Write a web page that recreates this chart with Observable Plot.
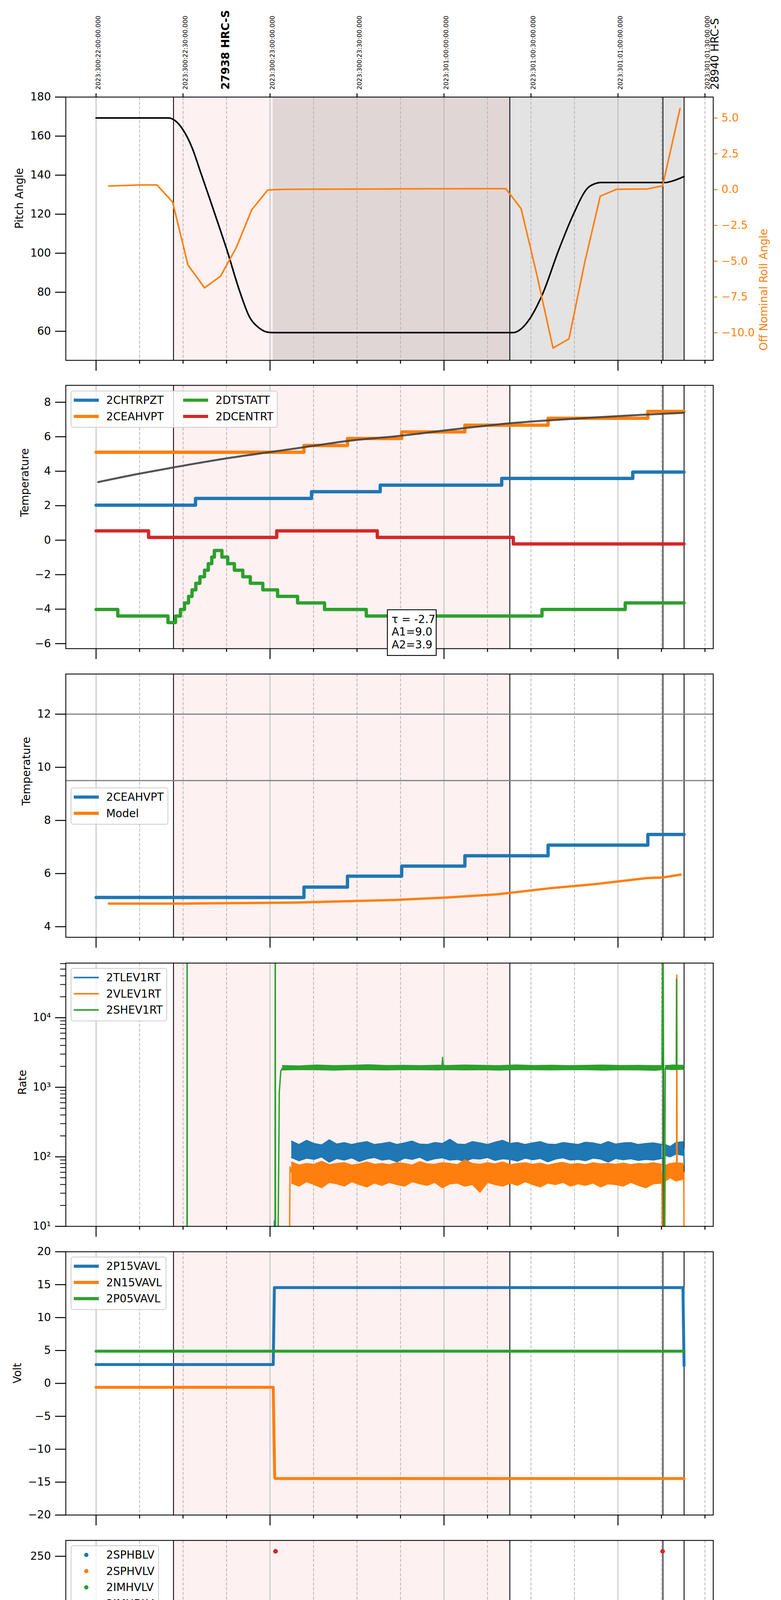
<!DOCTYPE html>
<html><head><meta charset="utf-8">
<script src="https://cdn.jsdelivr.net/npm/d3@7"></script>
<script src="https://cdn.jsdelivr.net/npm/@observablehq/plot@0.6"></script>
<style>
body{margin:0;background:#fff;}
#root{position:relative;width:2000px;height:6200px;font-family:"DejaVu Sans";}
#root svg{position:absolute;left:0;overflow:visible;}
</style></head><body><div id="root"></div>
<script>
// ---------- time axis: minutes after 18:00 local (2023-10-27, DOY 300) ----------
const hourTicks = [0, 60, 120, 180];
const hourLabels = ["18h", "19h", "20h", "21h"];
const quarterTicks = [15, 30, 45, 75, 90, 105, 135, 150, 165, 195, 210];
const quarterLabels = ["15", "30", "45", "15", "30", "45", "15", "30", "45", "15", "30"];
const halfHourTicks = [0, 30, 60, 90, 120, 150, 180, 210];
const topLabels = ["2023:300:22:00:00.000", "2023:300:22:30:00.000", "2023:300:23:00:00.000", "2023:300:23:30:00.000",
  "2023:301:00:00:00.000", "2023:301:00:30:00.000", "2023:301:01:00:00.000", "2023:301:01:30:00.000"];
const obsidT = [43.2, 212.0];
const obsidLabels = ["27938 HRC-S", "28940 HRC-S"];
const eventTimes = [26.7, 142.7, 195.5, 202.8];
const pinkSpan = [26.7, 142.7];
const graySpan = [61.0, 202.8];
const xDomain = [-10.44, 212.86];

// ---------- panel 1: pitch / roll ----------
const pitchT = [0, 25.0, 27.0, 30.0, 33.1, 36.1, 38.9, 42.0, 45.1, 49.4, 52.8, 56.3, 59.7, 62.0, 143.9, 146.4, 149.0, 154.2, 159.3, 164.5, 169.6, 172.0, 173.9, 196.3, 198.8, 202.8];
const pitchV = [169.3, 169.3, 168.2, 163.2, 154.1, 141.3, 129.2, 115.6, 101.8, 81.1, 67.7, 61.6, 59.4, 59.3, 59.3, 61.0, 65.2, 79.8, 100.6, 119.5, 133.5, 135.6, 136.2, 136.2, 137.0, 139.3];
const rollT = [4.4, 15.0, 21.0, 26.4, 31.7, 37.4, 42.9, 48.4, 53.7, 59.2, 64.8, 100, 141.3, 146.6, 152.1, 157.6, 163.1, 168.6, 173.9, 179.6, 190.2, 195.4, 201.4];
const rollV = [0.25, 0.33, 0.33, -0.87, -5.27, -6.86, -6.06, -4.03, -1.40, -0.03, 0.02, 0.05, 0.07, -1.33, -6.02, -11.07, -10.43, -5.02, -0.45, 0.03, 0.05, 0.27, 5.67];
const pitchTicks = [60, 80, 100, 120, 140, 160, 180];
const rollTicks = [-10, -7.5, -5, -2.5, 0, 2.5, 5];

// ---------- panel 2: temperatures ----------
const chtrT = [0, 34.3, 74.3, 98.0, 139.9, 185.1, 202.8];
const chtrV = [2.03, 2.42, 2.81, 3.19, 3.58, 3.95, 3.95];
const ceahT = [0, 71.7, 86.7, 105.4, 127.2, 155.9, 190.3, 202.8];
const ceahV = [5.10, 5.49, 5.90, 6.28, 6.67, 7.07, 7.47, 7.47];
const dtstT = [0, 7.5, 24.8, 27.4, 29.1, 30.5, 31.9, 33.1, 34.4, 35.8, 37.4, 38.7, 39.9, 40.8, 43.4, 45.4, 47.7, 50.6, 53.2, 57.5, 62.6, 69.5, 78.8, 93.2, 153.8, 182.5, 202.8];
const dtstV = [-4.02, -4.40, -4.78, -4.40, -4.02, -3.64, -3.26, -2.88, -2.50, -2.12, -1.74, -1.36, -0.98, -0.60, -0.98, -1.36, -1.74, -2.12, -2.50, -2.88, -3.26, -3.64, -4.02, -4.40, -4.02, -3.64, -3.64];
const dcenT = [0, 18.1, 62.3, 97.0, 143.9, 202.8];
const dcenV = [0.54, 0.16, 0.54, 0.16, -0.22, -0.22];
const fitT = [0.7, 15.0, 26.7, 45.1, 60.0, 71.7, 86.6, 105.3, 127.0, 142.8, 158.0, 173.0, 188.0, 202.8];
const fitV = [3.37, 3.86, 4.22, 4.75, 5.11, 5.39, 5.75, 6.06, 6.50, 6.78, 6.97, 7.13, 7.27, 7.39];
const fitText = ["τ = -2.7", "A1=9.0", "A2=3.9"];
const p2Legend = ["2CHTRPZT", "2CEAHVPT", "2DTSTATT", "2DCENTRT"];

// ---------- panel 3: 2CEAHVPT vs model ----------
const modelT = [4.4, 30, 52.6, 69.6, 86.9, 104.1, 121.3, 138.6, 155.9, 172.9, 190.1, 195.4, 201.6];
const modelV = [4.87, 4.87, 4.89, 4.91, 4.96, 5.01, 5.10, 5.22, 5.44, 5.61, 5.83, 5.85, 5.96];
const limitLines = [12, 9.5];
const p3Legend = ["2CEAHVPT", "Model"];

// ---------- panel 4: rates (noise envelopes) ----------
const bandT = [67.4, 70, 72.6, 75.2, 77.8, 80.4, 83, 85.6, 88.2, 90.8, 93.4, 96, 98.6, 101.2, 103.8, 106.4, 109, 111.6, 114.2, 116.8, 119.4, 122, 124.6, 127.2, 129.8, 132.4, 135, 137.6, 140.2, 142.8, 145.4, 148, 150.6, 153.2, 155.8, 158.4, 161, 163.6, 166.2, 168.8, 171.4, 174, 176.6, 179.2, 181.8, 184.4, 187, 189.6, 192.2, 195.2];
const tlevHi = [168, 150, 172, 155, 148, 175, 152, 160, 150, 158, 165, 150, 155, 162, 150, 158, 168, 152, 150, 160, 155, 178, 152, 150, 165, 158, 150, 162, 172, 155, 160, 150, 158, 165, 152, 150, 160, 155, 150, 162, 158, 150, 165, 152, 158, 160, 150, 155, 158, 150];
const tlevLo = [98, 88, 96, 92, 100, 84, 95, 90, 97, 86, 94, 98, 90, 93, 85, 96, 92, 99, 88, 94, 97, 90, 92, 86, 95, 93, 98, 89, 94, 92, 87, 96, 91, 95, 85, 93, 97, 90, 92, 88, 96, 93, 84, 95, 91, 94, 89, 92, 90, 95];
const vlevHi = [84, 76, 80, 78, 86, 77, 80, 82, 76, 79, 84, 78, 80, 77, 82, 80, 76, 85, 79, 78, 82, 80, 77, 90, 80, 78, 82, 79, 84, 77, 80, 82, 78, 81, 76, 80, 83, 78, 80, 77, 82, 79, 80, 78, 81, 77, 80, 79, 82, 78];
const vlevLo = [42, 38, 44, 40, 36, 43, 41, 38, 44, 40, 37, 42, 39, 43, 40, 38, 44, 41, 39, 43, 36, 41, 42, 38, 40, 31, 43, 40, 38, 42, 39, 44, 40, 37, 42, 40, 43, 38, 41, 39, 42, 37, 41, 40, 38, 43, 39, 36, 41, 42];
const band2T = [196.3, 198, 200, 202.7];
const tlevHi2 = [150, 140, 160, 165];
const tlevLo2 = [105, 100, 110, 105];
const vlevHi2 = [75, 80, 82, 80];
const vlevLo2 = [45, 50, 45, 48];
const shevT = [64.3, 70, 76, 82, 88, 94, 100, 106, 112, 118, 119.3, 119.5, 119.7, 121, 127, 133, 139, 145, 151, 157, 163, 169, 175, 181, 187, 193, 195.2];
const shevHi = [2050, 2020, 2080, 2040, 2060, 2100, 2050, 2060, 2040, 2070, 2060, 2700, 2060, 2050, 2080, 2060, 2040, 2090, 2050, 2070, 2040, 2060, 2080, 2050, 2060, 2040, 2050];
const shevLo = [1780, 1800, 1790, 1770, 1800, 1790, 1780, 1800, 1790, 1780, 1790, 1790, 1790, 1800, 1780, 1790, 1770, 1800, 1790, 1780, 1800, 1790, 1770, 1790, 1780, 1760, 1800];
const shev2T = [196.3, 199, 202.8];
const shevHi2 = [2050, 2080, 2060];
const shevLo2 = [1820, 1800, 1820];
// spikes / transitions (single samples)
const shevSpikes = [
  {t: [31.35, 31.4, 31.45], v: [1, 1e6, 1]},
  {t: [61.7, 61.8, 61.9, 62.6, 63.2, 63.7, 64.3], v: [1, 1e6, 1, 1, 850, 1700, 1900]},
  {t: [195.2, 195.5, 196.0, 196.3], v: [1900, 1e6, 1, 1900]},
  {t: [200.1, 200.2, 200.3], v: [1950, 36000, 1950]}
];
const tlevSpikes = [
  {t: [61.4, 61.5, 61.6], v: [1, 12, 1]},
  {t: [202.7, 202.85], v: [130, 76]}
];
const vlevSpikes = [
  {t: [66.6, 66.9, 67.4], v: [1, 72, 60]},
  {t: [195.2, 195.4, 196.0, 196.3], v: [60, 1, 1, 60]},
  {t: [200.2, 200.3, 200.4], v: [60, 41000, 60]},
  {t: [202.7, 202.85], v: [60, 1]}
];
const rateTicks = [10, 100, 1000, 10000];
const rateLabels = ["10¹", "10²", "10³", "10⁴"];
const p4Legend = ["2TLEV1RT", "2VLEV1RT", "2SHEV1RT"];

// ---------- panel 5: voltages ----------
const p15T = [0, 61.1, 61.5, 202.4, 202.8];
const p15V = [2.86, 2.86, 14.55, 14.55, 2.7];
const n15T = [0, 61.1, 61.6, 61.8, 202.8];
const n15V = [-0.6, -0.6, -14.3, -14.45, -14.45];
const p05T = [0, 202.8];
const p05V = [4.9, 4.9];
const p5Legend = ["2P15VAVL", "2N15VAVL", "2P05VAVL"];

// ---------- panel 6: HV monitors (scatter) ----------
const hvBlueT = [64.3, 64.7, 65.4, 66.1, 66.6, 67.4, 195.9];
const hvBlueV = [117.6, 102, 97.3, 92, 87, 82, 51.7];
const hvOrangeT = [64.2, 64.7, 65.2, 66.1, 66.8, 67.3, 195.9];
const hvOrangeV = [126.6, 96.3, 90.7, 85.4, 80, 75, 5];
const hvRedT = [61.9, 195.4];
const hvRedV = [255, 255];
const hvPlateauT = [67.9, 202.8];      // dense steady samples
const hvBlueLevels = [77, 78];
const hvOrangeLevels = [71];
const p6Legend = ["2SPHBLV", "2SPHVLV", "2IMHVLV", "2IMHBLV"];

// ---------- panel 7: detector temps ----------
const spinT = [61.9, 70.2, 81.0, 103.0, 202.8];
const spinV = [4.16, 3.71, 3.26, 2.82, 2.82];
const sphvT = [61.1, 61.5, 70.5, 75.5, 79.8, 84.6, 88.9, 94.1, 99.6, 105.7, 113.0, 120.7, 130.1, 133.5, 133.7, 141.0, 153.8, 171.0, 193.8, 194.9, 195.1, 202.8];
const sphvV = [13.97, 14.41, 14.70, 15.00, 15.25, 15.53, 15.80, 16.08, 16.36, 16.64, 16.93, 17.20, 17.50, 17.20, 17.50, 17.80, 18.08, 18.37, 18.50, 15.40, 18.66, 18.66];
const iminT = [62.2, 196.3, 196.7, 202.8];
const iminV = [0.67, 15.2, 0.67, 0.67];
const imhvT = [61.5, 61.6, 89.4, 110.9, 131.3, 154.7, 183.4, 194.9, 195.4, 196.8, 202.8];
const imhvV = [-30, 13.86, 14.13, 14.41, 14.69, 14.96, 15.25, -40, 60, 15.25, 15.25];
const p7Legend = ["2SPINATM", "2SPHVATM", "2IMINATM", "2IMHVATM"];

// ---------- panel 8: FEA temps ----------
const fhtrT = [0, 31.0, 73.4, 83.7, 93.5, 103.0, 112.6, 122.6, 133.0, 143.4, 154.4, 163.0, 170.8, 179.6, 188.5, 198.0, 202.8];
const fhtrV = [-9.21, -8.80, -8.38, -7.97, -7.57, -7.17, -6.77, -6.38, -5.98, -5.58, -5.19, -4.80, -4.40, -4.03, -3.65, -3.27, -3.27];
const fradT = [0, 30.2, 41.1, 53.2, 61.1, 76.2, 90.1, 102.3, 114.3, 126.4, 138.4, 150.4, 155.7, 158.7, 161.6, 165.9, 176.3, 186.7, 195.9, 202.8];
const fradV = [-10.89, -10.46, -10.04, -10.46, -10.89, -10.46, -10.04, -9.62, -9.21, -8.80, -8.38, -7.97, -7.57, -7.17, -6.77, -6.38, -5.98, -5.58, -5.19, -5.19];
const feprT = [62.4, 64.8, 67.4, 70.0, 73.8, 78.3, 83.4, 90.3, 97.5, 105.7, 114.7, 124.6, 134.8, 146.3, 158.0, 168.3, 177.7, 188.0, 198.0, 202.8];
const feprV = [-7.42, -7.00, -6.60, -6.20, -5.77, -5.40, -5.00, -4.60, -4.20, -3.82, -3.43, -3.02, -2.62, -2.22, -1.82, -1.43, -1.03, -0.60, -0.25, -0.25];
const fe00T = [61.5, 61.6, 69.7, 73.7, 73.9, 76.5, 80.2, 80.4, 81.6, 81.8, 83.4, 88.5, 88.7, 89.4, 96.1, 97.4, 97.6, 103.2, 110.4, 117.6, 125.3, 133.6, 142.5, 151.3, 157.2, 157.4, 158.1, 164.5, 166.6, 166.8, 170.8, 178.2, 185.6, 191.0, 191.2, 193.3, 195.0, 195.4, 195.9, 201.4];
const fe00V = [-20, -6.72, -6.36, -5.96, -6.36, -5.97, -5.2, -5.97, -4.9, -5.97, -5.60, -6.03, -5.60, -5.24, -4.87, -5.31, -4.87, -4.50, -4.14, -3.78, -3.44, -3.08, -2.74, -2.41, -2.85, -2.41, -2.06, -1.73, -1.40, -1.73, -1.38, -1.05, -0.70, -1.19, -0.70, -0.39, -20, 10, -0.39, -0.39];
const p8Legend = ["2FHTRMZT", "2FRADPYT", "2FEPRATM", "2FE00ATM"];
const xTitle = "2023-10-27 (300)";

// ================= drawing =================
const W = 2000, FL = 168, FR = 174, PH = 674;
const panelTops = [248, 986, 1725, 2465, 3204, 3943, 4682, 5421];
const FONT = "DejaVu Sans";
const C = {blue: "#1f77b4", orange: "#ff7f0e", green: "#2ca02c", red: "#d62728"};
const FS = 27.8;
const root = document.getElementById("root");
const zip = (t, v) => t.map((x, i) => ({t: x, v: v[i]}));
const style = {fontFamily: FONT, fontSize: FS + "px", color: "black", background: "transparent", overflow: "visible"};

function bg(gray) {
  return [
    Plot.rect([pinkSpan], {x1: d => d[0], x2: d => d[1], fill: "#fdf1f1"}),
    gray ? Plot.rect([graySpan], {x1: d => d[0], x2: d => d[1], fill: "black", fillOpacity: 0.11}) : null,
    Plot.ruleX(hourTicks, {stroke: "#b0b0b0", strokeWidth: 1.8}),
    Plot.ruleX(quarterTicks, {stroke: "#b0b0b0", strokeWidth: 1.8, strokeDasharray: "8,4"}),
    Plot.ruleX(eventTimes, {stroke: "black", strokeWidth: 2.2})
  ];
}
function xAxes(showLabels) {
  return [
    Plot.axisX({ticks: hourTicks, tickSize: 27, tickPadding: 12, strokeWidth: 2.5, fontSize: FS, label: null,
      tickFormat: d => showLabels ? hourLabels[hourTicks.indexOf(d)] : ""}),
    Plot.axisX({ticks: quarterTicks, tickSize: 9, tickPadding: 2, strokeWidth: 2.5, fontSize: 20, label: null,
      tickFormat: d => showLabels ? quarterLabels[quarterTicks.indexOf(d)] : ""})
  ];
}
function makePanel({idx, y, marks, mt = 30, mb = 34, ylabel, ylabelX, yticks, yfmt, extra = [], xLabels = false, gray = false}) {
  const all = [
    ...bg(gray),
    ...marks,
    Plot.axisY({ticks: yticks, tickFormat: yfmt, tickSize: 27, tickPadding: 11, strokeWidth: 2.5, fontSize: FS, label: null}),
    ...extra,
    ...xAxes(xLabels),
    Plot.text([ylabel], {text: d => d, frameAnchor: "left", dx: ylabelX - FL, rotate: -90, fontSize: FS}),
    Plot.frame({stroke: "black", strokeWidth: 2.2})
  ];
  const svg = Plot.plot({width: W, height: mt + PH + mb, marginLeft: FL, marginRight: FR, marginTop: mt, marginBottom: mb,
    style, x: {domain: xDomain}, y, marks: all});
  svg.style.top = (panelTops[idx] - mt) + "px";
  root.appendChild(svg);
  return {svg, mt};
}
function legend(p, {y, w, labels, colors, kind = "line", sw = 8, cols = 1, colW = 280}) {
  const rows = Math.ceil(labels.length / cols);
  const h = rows * 41.5 + 10;
  const g = d3.select(p.svg).append("g").attr("transform", `translate(${FL + 14},${p.mt + y})`)
    .attr("font-family", FONT).attr("font-size", FS).attr("text-anchor", "start");
  g.append("rect").attr("width", w).attr("height", h).attr("rx", 5).attr("fill", "white").attr("fill-opacity", 0.8)
    .attr("stroke", "#cccccc").attr("stroke-width", 2);
  labels.forEach((label, k) => {
    const c = Math.floor(k / rows), r = k % rows, cy = 23.5 + r * 41.5, ox = c * colW;
    if (kind === "line") g.append("line").attr("x1", ox + 7).attr("x2", ox + 71).attr("y1", cy).attr("y2", cy)
      .attr("stroke", colors[k]).attr("stroke-width", sw);
    else g.append("circle").attr("cx", ox + 39).attr("cy", cy).attr("r", 5.5).attr("fill", colors[k]);
    g.append("text").attr("x", ox + 90).attr("y", cy).attr("dy", "0.35em").attr("text-anchor", "start").attr("fill", "black").text(label);
  });
}
const stepLine = (t, v, color, sw) => Plot.line(zip(t, v), {x: "t", y: "v", stroke: color, strokeWidth: sw, curve: "step-after", clip: true, strokeLinejoin: "round"});
const linLine = (t, v, color, sw, extra = {}) => Plot.line(zip(t, v), {x: "t", y: "v", stroke: color, strokeWidth: sw, clip: true, strokeLinejoin: "round", ...extra});

// ---- Panel 1 ----
const p1 = makePanel({idx: 0, mt: 248, y: {domain: [45.1, 180]}, yticks: pitchTicks, yfmt: d3.format("d"),
  ylabel: "Pitch Angle", ylabelX: 50, gray: true,
  marks: [linLine(pitchT, pitchV, "black", 4, {curve: "monotone-x"})],
  extra: [
    Plot.axisX({anchor: "top", ticks: halfHourTicks, tickSize: 10, strokeWidth: 2.5, label: null, tickFormat: () => ""}),
    Plot.text(halfHourTicks, {x: d => d, text: (d, i) => topLabels[i], frameAnchor: "top", dy: -19, rotate: -90, textAnchor: "start", fontSize: 16}),
    Plot.text([0], {x: () => obsidT[0], text: () => obsidLabels[0], frameAnchor: "top", dy: -19, rotate: -90, textAnchor: "start", fontSize: FS, fontWeight: "bold"}),
    Plot.text([1], {x: () => obsidT[1], text: () => obsidLabels[1], frameAnchor: "top", dy: -19, rotate: -90, textAnchor: "start", fontSize: FS})
  ]});
const p1r = Plot.plot({width: W, height: 248 + PH + 34, marginLeft: FL, marginRight: FR, marginTop: 248, marginBottom: 34,
  style, x: {domain: xDomain, axis: null}, y: {domain: [-11.93, 6.47]},
  marks: [
    linLine(rollT, rollV, C.orange, 4),
    Plot.axisY({anchor: "right", ticks: rollTicks, tickFormat: d3.format(".1f"), tickSize: 10, tickPadding: 11, strokeWidth: 2.5,
      stroke: C.orange, fill: C.orange, color: C.orange, fontSize: FS, label: null}),
    Plot.text(["Off Nominal Roll Angle"], {text: d => d, frameAnchor: "right", dx: 130, rotate: -90, fill: C.orange, fontSize: FS})
  ]});
p1r.style.top = "0px";
root.appendChild(p1r);

// ---- Panel 2 ----
const p2 = makePanel({idx: 1, y: {domain: [-6.29, 8.98]}, yticks: [-6, -4, -2, 0, 2, 4, 6, 8], yfmt: d3.format("d"),
  ylabel: "Temperature", ylabelX: 64,
  marks: [
    stepLine(chtrT, chtrV, C.blue, 8.5),
    stepLine(ceahT, ceahV, C.orange, 8.5),
    stepLine(dtstT, dtstV, C.green, 8.5),
    stepLine(dcenT, dcenV, C.red, 8.5),
    linLine(fitT, fitV, "#404040", 5, {curve: "monotone-x", strokeOpacity: 0.9})
  ]});
legend(p2, {y: 15, w: 528, labels: p2Legend, colors: [C.blue, C.orange, C.green, C.red], sw: 8, cols: 2, colW: 280});
{
  const g = d3.select(p2.svg).append("g").attr("font-family", FONT).attr("font-size", FS).attr("text-anchor", "start");
  g.append("rect").attr("x", FL + 824).attr("y", p2.mt + 575).attr("width", 125).attr("height", 117)
    .attr("fill", "white").attr("stroke", "black").attr("stroke-width", 2.2);
  fitText.forEach((s, i) => g.append("text").attr("x", FL + 835).attr("y", p2.mt + 599 + i * 32.5).attr("dy", "0.35em")
    .attr("text-anchor", "start").text(s));
}

// ---- Panel 3 ----
const p3 = makePanel({idx: 2, y: {domain: [3.60, 13.51]}, yticks: [4, 6, 8, 10, 12], yfmt: d3.format("d"),
  ylabel: "Temperature", ylabelX: 68,
  marks: [
    Plot.ruleY(limitLines, {stroke: "#808080", strokeWidth: 3}),
    stepLine(ceahT, ceahV, C.blue, 8.5),
    linLine(modelT, modelV, C.orange, 6)
  ]});
legend(p3, {y: 292, w: 248, labels: p3Legend, colors: [C.blue, C.orange], sw: 8});

// ---- Panel 4 ----
const band = (t, lo, hi, color) => [
  Plot.areaY(t.map((x, i) => ({t: x, lo: lo[i], hi: hi[i]})), {x: "t", y1: "lo", y2: "hi", fill: color, clip: true}),
  Plot.line(zip(t, hi), {x: "t", y: "v", stroke: color, strokeWidth: 3, clip: true}),
  Plot.line(zip(t, lo), {x: "t", y: "v", stroke: color, strokeWidth: 3, clip: true})
];
const spikes = (arr, color) => arr.map(s => linLine(s.t, s.v, color, 3.5));
const minorRate = [1, 10, 100, 1000].flatMap(p => [2, 3, 4, 5, 6, 7, 8, 9].map(k => k * p * 10)).filter(v => v < 61000);
const p4 = makePanel({idx: 3, y: {type: "log", domain: [10, 61000]}, yticks: rateTicks, yfmt: d => rateLabels[rateTicks.indexOf(d)],
  ylabel: "Rate", ylabelX: 58,
  marks: [
    ...band(bandT, tlevLo, tlevHi, C.blue), ...band(band2T, tlevLo2, tlevHi2, C.blue), ...spikes(tlevSpikes, C.blue),
    ...band(bandT, vlevLo, vlevHi, C.orange), ...band(band2T, vlevLo2, vlevHi2, C.orange), ...spikes(vlevSpikes, C.orange),
    ...band(shevT, shevLo, shevHi, C.green), ...band(shev2T, shevLo2, shevHi2, C.green), ...spikes(shevSpikes, C.green)
  ],
  extra: [Plot.axisY({ticks: minorRate, tickSize: 14, strokeWidth: 2, tickFormat: () => "", label: null})]});
legend(p4, {y: 14, w: 245, labels: p4Legend, colors: [C.blue, C.orange, C.green], sw: 4});

// ---- Panel 5 ----
const p5 = makePanel({idx: 4, y: {domain: [-20, 20]}, yticks: [-20, -15, -10, -5, 0, 5, 10, 15, 20], yfmt: d3.format("d"),
  ylabel: "Volt", ylabelX: 45,
  marks: [linLine(p15T, p15V, C.blue, 7.5), linLine(n15T, n15V, C.orange, 7.5), linLine(p05T, p05V, C.green, 7.5)]});
legend(p5, {y: 14, w: 243, labels: p5Legend, colors: [C.blue, C.orange, C.green], sw: 8});

// ---- Panel 6 ----
const plateau = (levels, color, sw) => levels.map(lv => Plot.line(hvPlateauT.map(t => ({t, v: lv})),
  {x: "t", y: "v", stroke: color, strokeWidth: sw, strokeLinecap: "round", clip: true}));
const p6 = makePanel({idx: 5, y: {domain: [0, 266]}, yticks: [0, 50, 100, 150, 200, 250], yfmt: d3.format("d"),
  ylabel: "HV Monitor", ylabelX: 50,
  marks: [
    ...plateau(hvBlueLevels, C.blue, 11),
    Plot.dot(zip(hvBlueT, hvBlueV), {x: "t", y: "v", r: 6, fill: C.blue}),
    ...plateau(hvOrangeLevels, C.orange, 11),
    Plot.dot(zip(hvOrangeT, hvOrangeV), {x: "t", y: "v", r: 6, fill: C.orange}),
    Plot.dot(zip(hvRedT, hvRedV), {x: "t", y: "v", r: 6, fill: C.red})
  ]});
legend(p6, {y: 14, w: 224, labels: p6Legend, colors: [C.blue, C.orange, C.green, C.red], kind: "dot"});

// ---- Panel 7 ----
const p7 = makePanel({idx: 6, y: {domain: [-0.85, 19.58]}, yticks: [0, 2.5, 5, 7.5, 10, 12.5, 15, 17.5], yfmt: d3.format(".1f"),
  ylabel: "Detector Temp", ylabelX: 41,
  marks: [
    stepLine(spinT, spinV, C.blue, 7.5),
    stepLine(sphvT, sphvV, C.orange, 7.5),
    stepLine(iminT, iminV, C.green, 7.5),
    stepLine(imhvT, imhvV, C.red, 7.5)
  ]});
legend(p7, {y: 13, w: 248, labels: p7Legend, colors: [C.blue, C.orange, C.green, C.red], sw: 8});

// ---- Panel 8 ----
const p8 = makePanel({idx: 7, mb: 106, y: {domain: [-11.57, -0.33]}, yticks: [-10, -8, -6, -4, -2], yfmt: d3.format("d"),
  ylabel: "FEA Temp", ylabelX: 45, xLabels: true,
  marks: [
    stepLine(fhtrT, fhtrV, C.blue, 8),
    stepLine(fradT, fradV, C.orange, 8),
    stepLine(feprT, feprV, C.green, 8),
    stepLine(fe00T, fe00V, C.red, 8)
  ],
  extra: [Plot.text([xTitle], {text: d => d, frameAnchor: "bottom", dy: 90, fontSize: 33})]});
legend(p8, {y: 13, w: 250, labels: p8Legend, colors: [C.blue, C.orange, C.green, C.red], sw: 8});
</script></body></html>
